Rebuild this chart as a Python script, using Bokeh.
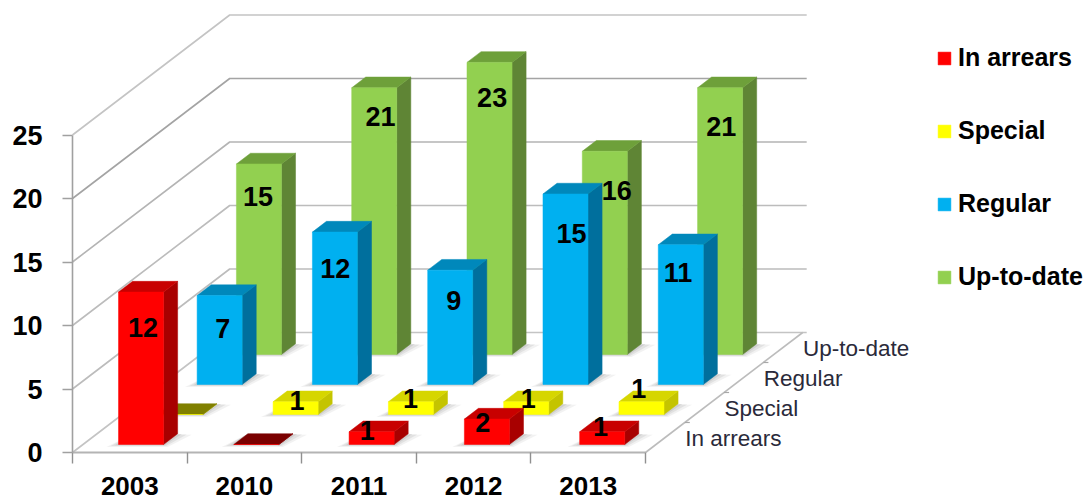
from bokeh.embed import file_html
from bokeh.resources import INLINE
from bokeh.plotting import figure
from bokeh.core.properties import value
from bokeh.models import (ColumnDataSource, FixedTicker, Legend, LegendItem, LinearAxis, Range1d)

# ---- data ----
years = ["2003", "2010", "2011", "2012", "2013"]
series_names = ["In arrears", "Special", "Regular", "Up-to-date"]
in_arrears = [12, 0, 1, 2, 1]
special = [0, 1, 1, 1, 1]
regular = [7, 12, 9, 15, 11]
up_to_date = [15, 21, 23, 16, 21]
value_ticks = [0, 5, 10, 15, 20, 25]

# ---- styles / layout ----
FONT = "Liberation Sans"
FRONT = ["#ff0000", "#ffff00", "#00b0f0", "#92d050"]
SIDE = ["#a80000", "#c4c400", "#006f9d", "#5f8535"]
TOP = ["#c80000", "#d6d600", "#0088bb", "#6ea03a"]
ZERO = ["#7a0000", "#808000", "#006f9d", "#5f8535"]
GRID = ["#c4c4c4", "#bcbcbc", "#bcbcbc", "#b4b4b4", "#a4a4a4", "#c4c4c4"]
# label nudges in screen pixels from the bar's front-top centre
NUDGE = [
    [(2, 35), None, (-3, -1), (-2, 3), (1, -5)],
    [None, (2, -1), (1, -3), (4, -3), (0, -13)],
    [(3, 33), (1, 36), (5, 30), (8, 40), (0, 28)],
    [(-1, 33), (7, 29), (4, 35), (14, 39), (4, 39)],
]

W, H = 1085, 502
PX = 114.6   # pixels per category
PY = 12.7    # pixels per value unit
ORIGIN_X, ORIGIN_Y = 72, 452   # axis origin inside the figure
DEPTH_X = 39.3 / PX   # depth shift per series in category units
DEPTH_Y = 30.0 / PY   # depth shift per series in value units
C0, C1 = 0.31, 0.703  # bar span inside a category
S0, S1 = 0.267, 0.625 # bar span inside a series' depth slot
BAR_STEP = 1.006      # bars sit slightly wider apart than the axis ticks
n_cat, n_ser = len(years), len(series_names)


def pr(c, s, z):
    """oblique projection of (category, depth, value) into the flat data space"""
    return c + s * DEPTH_X, z + s * DEPTH_Y


def poly(*pts):
    out = [pr(*q) for q in pts]
    return [q[0] for q in out], [q[1] for q in out]


p = figure(width=W, height=H, output_backend="svg", toolbar_location=None,
           x_axis_type=None, y_axis_type=None, min_border=0,
           x_range=Range1d(-ORIGIN_X / PX, (W - ORIGIN_X) / PX),
           y_range=Range1d(-(H - ORIGIN_Y) / PY, ORIGIN_Y / PY))
p.outline_line_color = None
p.grid.visible = False
p.background_fill_color = "white"

# ---- walls ----
xs, ys, cs = [], [], []
for v, col in zip(value_ticks, GRID):
    x0, y0 = pr(0, 0, v)
    x1, y1 = pr(0, n_ser, v)
    xs.append([x0, x1, x1 + n_cat + 4 / PX])
    ys.append([y0, y1, y1])
    cs.append(col)
p.multi_line(xs, ys, line_color=cs, line_width=1.6)

# floor right edge with its depth ticks
fx, fy = poly((n_cat, 0, 0), (n_cat, n_ser, 0))
p.line(fx, fy, line_color="#bcbcbc", line_width=1.6)
tick_x, tick_y = [], []
for s in range(1, n_ser):
    a, b = pr(n_cat, s, 0)
    tick_x.append([a, a + 5 / PX])
    tick_y.append([b, b])
p.multi_line(tick_x, tick_y, line_color="#a8a8a8", line_width=1.2)

# ---- soft floor shadows ----
all_series = [in_arrears, special, regular, up_to_date]
for grow, alpha in [(1.0, 0.10), (0.65, 0.14), (0.3, 0.18)]:
    sx, sy = [], []
    for s in range(n_ser):
        for c in range(n_cat):
            k = c * BAR_STEP
            a = pr(k + C0, s + S0, 0)
            b = pr(k + C1, s + S0, 0)
            d = pr(k + C1, s + S1, 0)
            e = pr(k + C0, s + S1, 0)
            sx.append([a[0] - 12 * grow / PX, b[0] + 4 * grow / PX, d[0] + 14 * grow / PX, e[0]])
            sy.append([a[1] - 2.5 * grow / PY, b[1] - 2.5 * grow / PY, d[1] - 1 * grow / PY, e[1]])
    p.patches(sx, sy, fill_color="#808080", fill_alpha=alpha, line_color=None)

# ---- bars, back row first ----
legend_items = {}
for s in reversed(range(n_ser)):
    vals = all_series[s]
    fxs, fys, sxs, sys_, txs, tys, tcs = [], [], [], [], [], [], []
    for c, v in enumerate(vals):
        k = c * BAR_STEP
        l, r = k + C0, k + C1
        a, b = s + S0, s + S1
        q = poly((l, a, 0), (r, a, 0), (r, a, v), (l, a, v))
        fxs.append(q[0]); fys.append(q[1])
        q = poly((r, a, 0), (r, b, 0), (r, b, v), (r, a, v))
        sxs.append(q[0]); sys_.append(q[1])
        q = poly((l, a, v), (r, a, v), (r, b, v), (l, b, v))
        txs.append(q[0]); tys.append(q[1])
        tcs.append(TOP[s] if v else ZERO[s])
    p.patches(sxs, sys_, fill_color=SIDE[s], line_color=SIDE[s], line_width=0.5)
    p.patches(txs, tys, fill_color=tcs, line_color=tcs, line_width=0.5)
    legend_items[s] = p.patches(fxs, fys, fill_color=FRONT[s], line_color=FRONT[s], line_width=0.5)

# ---- value labels ----
lx, ly, lt, lox, loy = [], [], [], [], []
for s, vals in enumerate(all_series):
    for c, v in enumerate(vals):
        if not v:
            continue
        x, y = pr(c + (C0 + C1) / 2, s + S0, v)
        dx, dy = NUDGE[s][c]
        lx.append(x); ly.append(y); lt.append(str(v)); lox.append(dx); loy.append(dy)
p.text(x="x", y="y", text="t", x_offset="ox", y_offset="oy",
       source=ColumnDataSource(dict(x=lx, y=ly, t=lt, ox=lox, oy=loy)),
       text_font=value(FONT), text_font_style="bold", text_font_size="27px",
       text_color="#000000", text_align="center", text_baseline="middle")

# ---- depth-axis labels ----
dx_, dy_ = [], []
for s in range(n_ser):
    a, b = pr(n_cat, s + 0.5, 0)
    dx_.append(a); dy_.append(b)
p.text(x=dx_, y=dy_, text=series_names, x_offset=20, y_offset=1,
       text_font=value(FONT), text_font_size="22.5px", text_color="#2a2a3a",
       text_align="left", text_baseline="middle")

# ---- real axes, pinned to the front-left corner ----
yax = LinearAxis(ticker=FixedTicker(ticks=value_ticks), fixed_location=0,
                 bounds=(0, 25))
yax.axis_line_color = "#a0a0a0"
yax.axis_line_width = 1.6
yax.major_tick_line_color = "#a0a0a0"
yax.major_tick_line_width = 1.4
yax.major_tick_in = 0
yax.major_tick_out = 10
yax.minor_tick_line_color = None
yax.major_label_standoff = 20
yax.major_label_text_font = FONT
yax.major_label_text_font_style = "bold"
yax.major_label_text_font_size = "27px"
yax.major_label_text_color = "#000000"
p.add_layout(yax, "left")

xax = LinearAxis(ticker=FixedTicker(ticks=[c + 0.5 for c in range(n_cat)],
                                    minor_ticks=list(range(n_cat + 1))),
                 fixed_location=0, bounds=(0, n_cat))
xax.major_label_overrides = {c + 0.5: y for c, y in enumerate(years)}
xax.axis_line_color = "#b4b4b4"
xax.axis_line_width = 1.8
xax.major_tick_line_color = None
xax.major_tick_in = 0
xax.major_tick_out = 0
xax.minor_tick_line_color = "#909090"
xax.minor_tick_line_width = 1.4
xax.minor_tick_in = 0
xax.minor_tick_out = 11
xax.major_label_standoff = 13
xax.major_label_text_font = FONT
xax.major_label_text_font_style = "bold"
xax.major_label_text_font_size = "26px"
xax.major_label_text_color = "#000000"
p.add_layout(xax, "below")

# ---- legend ----
legend = Legend(items=[LegendItem(label=n, renderers=[legend_items[i]]) for i, n in enumerate(series_names)],
                location=(936, 211), orientation="vertical",
                background_fill_alpha=0, border_line_color=None,
                padding=0, margin=0, spacing=44,
                glyph_width=16, glyph_height=16, label_standoff=6,
                label_text_font=FONT, label_text_font_style="bold",
                label_text_font_size="25px", label_text_color="#000000")
p.add_layout(legend)

open("out.html", "w").write(file_html(p, INLINE))
